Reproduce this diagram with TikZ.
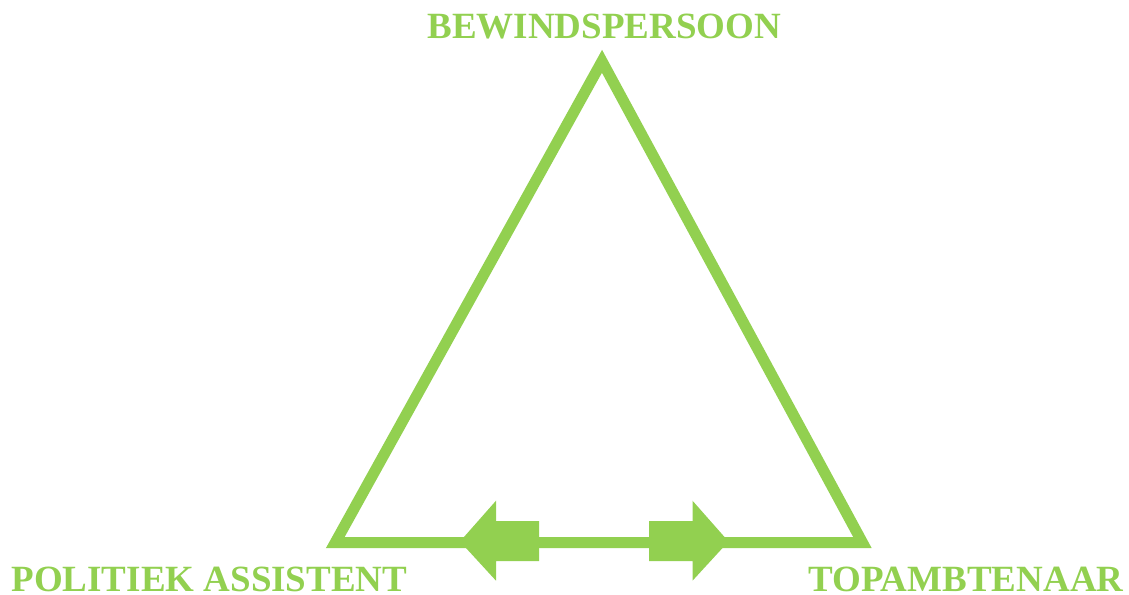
\documentclass[tikz,border=0pt]{standalone}
\usepackage{fontspec}
\setmainfont{Liberation Serif}
\definecolor{lgreen}{HTML}{92D050}
\begin{document}
\begin{tikzpicture}[x=1pt,y=-1pt,
  lbl/.style={text=lgreen,font=\fontsize{37}{40}\bfseries\selectfont,inner sep=0pt,anchor=base},
  edge/.style={draw=lgreen,line width=11pt,line join=miter},
  blockarrow/.style={fill=lgreen,draw=none}]
\useasboundingbox (0,0) rectangle (1129,594);
\coordinate (top) at (602,61.3);
\coordinate (bl) at (335.3,542.5);
\coordinate (br) at (862.4,542.5);
\draw[edge] (top) -- (bl) -- (br) -- cycle;
% block arrows on the base
\fill[blockarrow] (460,541.5) -- (496,500.7) -- (496,521) -- (539,521) -- (539,561) -- (496,561) -- (496,580.7) -- cycle;
\fill[blockarrow] (728.5,541.5) -- (692.5,500.7) -- (692.5,521) -- (649,521) -- (649,561) -- (692.5,561) -- (692.5,580.7) -- cycle;
\node[lbl] (bew) at (604.3,39) {BEWINDSPERSOON};
\node[lbl] (pol) at (209.4,591) {POLITIEK ASSISTENT};
\node[lbl] (topa) at (965.9,591) {TOPAMBTENAAR};
\end{tikzpicture}
\end{document}
